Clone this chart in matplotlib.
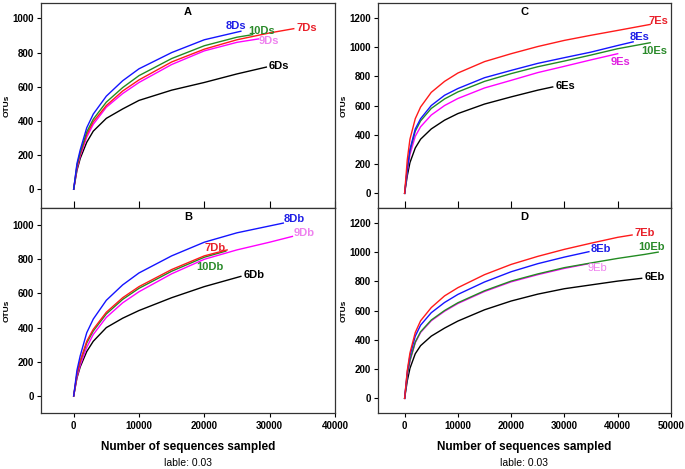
import matplotlib
matplotlib.use("Agg")
import matplotlib.pyplot as plt

plt.rcParams['font.family'] = ['Liberation Sans', 'DejaVu Sans']

# rarefaction curves: sequences sampled vs OTUs
# panel A
x_6Ds = [0, 500, 1000, 2000, 3000, 5000, 7500, 10000, 15000, 20000, 25000, 29500]
y_6Ds = [0, 110, 180, 275, 340, 415, 470, 520, 580, 625, 675, 715]
x_9Ds = [0, 500, 1000, 2000, 3000, 5000, 7500, 10000, 15000, 20000, 25000, 28300]
y_9Ds = [0, 120, 195, 305, 380, 480, 560, 625, 730, 810, 860, 880]
x_7Ds = [0, 500, 1000, 2000, 3000, 5000, 7500, 10000, 15000, 20000, 25000, 30000, 33700]
y_7Ds = [0, 130, 205, 320, 395, 490, 575, 640, 745, 820, 875, 915, 940]
x_10Ds = [0, 500, 1000, 2000, 3000, 5000, 7500, 10000, 15000, 20000, 25000, 27400]
y_10Ds = [0, 140, 215, 335, 410, 510, 595, 665, 765, 840, 890, 905]
x_8Ds = [0, 500, 1000, 2000, 3000, 5000, 7500, 10000, 15000, 20000, 25600]
y_8Ds = [0, 150, 230, 360, 440, 545, 635, 705, 800, 875, 925]

# panel B
x_6Db = [0, 500, 1000, 2000, 3000, 5000, 7500, 10000, 15000, 20000, 25600]
y_6Db = [0, 105, 170, 260, 320, 400, 455, 500, 575, 640, 700]
x_9Db = [0, 500, 1000, 2000, 3000, 5000, 7500, 10000, 15000, 20000, 25000, 30000, 33500]
y_9Db = [0, 110, 180, 285, 360, 460, 545, 610, 715, 800, 855, 900, 934]
x_10Db = [0, 500, 1000, 2000, 3000, 5000, 7500, 10000, 15000, 20000, 23300]
y_10Db = [0, 125, 200, 310, 380, 480, 565, 630, 730, 812, 848]
x_7Db = [0, 500, 1000, 2000, 3000, 5000, 7500, 10000, 15000, 20000, 23500]
y_7Db = [0, 130, 205, 320, 390, 490, 575, 640, 740, 820, 855]
x_8Db = [0, 500, 1000, 2000, 3000, 5000, 7500, 10000, 15000, 20000, 25000, 32100]
y_8Db = [0, 150, 235, 370, 450, 560, 650, 720, 820, 900, 955, 1012]

# panel C
x_6Es = [0, 500, 1000, 2000, 3000, 5000, 7500, 10000, 15000, 20000, 25000, 27800]
y_6Es = [0, 120, 210, 310, 370, 440, 500, 545, 610, 659, 705, 727]
x_9Es = [0, 500, 1000, 2000, 3000, 5000, 7500, 10000, 15000, 20000, 25000, 30000, 35000, 40000]
y_9Es = [0, 150, 265, 390, 455, 535, 600, 648, 720, 772, 825, 868, 912, 954]
x_10Es = [0, 500, 1000, 2000, 3000, 5000, 7500, 10000, 15000, 20000, 25000, 30000, 35000, 40000, 46100]
y_10Es = [0, 165, 290, 425, 495, 580, 645, 693, 765, 818, 865, 904, 945, 988, 1029]
x_8Es = [0, 500, 1000, 2000, 3000, 5000, 7500, 10000, 15000, 20000, 25000, 30000, 35000, 40000, 42900]
y_8Es = [0, 170, 300, 440, 510, 600, 670, 716, 790, 840, 888, 927, 965, 1010, 1035]
x_7Es = [0, 500, 1000, 2000, 3000, 5000, 7500, 10000, 15000, 20000, 25000, 30000, 35000, 40000, 46100]
y_7Es = [0, 230, 370, 510, 590, 690, 765, 822, 900, 954, 1003, 1045, 1080, 1113, 1154]

# panel D
x_6Eb = [0, 500, 1000, 2000, 3000, 5000, 7500, 10000, 15000, 20000, 25000, 30000, 35000, 40000, 44500]
y_6Eb = [0, 120, 205, 305, 360, 425, 480, 528, 605, 665, 712, 749, 775, 801, 820]
x_9Eb = [0, 500, 1000, 2000, 3000, 5000, 7500, 10000, 15000, 20000, 25000, 30000, 34300]
y_9Eb = [0, 155, 255, 380, 450, 530, 595, 648, 730, 796, 845, 888, 918]
x_10Eb = [0, 500, 1000, 2000, 3000, 5000, 7500, 10000, 15000, 20000, 25000, 30000, 35000, 40000, 45000, 47600]
y_10Eb = [0, 160, 260, 385, 455, 535, 600, 653, 735, 801, 850, 893, 925, 956, 983, 999]
x_8Eb = [0, 500, 1000, 2000, 3000, 5000, 7500, 10000, 15000, 20000, 25000, 30000, 34600]
y_8Eb = [0, 180, 290, 425, 500, 585, 655, 710, 795, 865, 920, 965, 1002]
x_7Eb = [0, 500, 1000, 2000, 3000, 5000, 7500, 10000, 15000, 20000, 25000, 30000, 35000, 40000, 42700]
y_7Eb = [0, 190, 310, 450, 530, 620, 700, 756, 845, 915, 970, 1018, 1060, 1100, 1116]

line_col = {'6': 'black', '9': '#ff00ff', '7': '#ff1a1a', '10': '#228b22', '8': '#1414ff'}
lab_col = {'6': 'black', '9': '#ee82ee', '7': '#e8202a', '10': '#2a8a2a', '8': '#1e1ee6'}

fig = plt.figure(figsize=(6.85, 4.69), dpi=100)
axA = fig.add_axes([0.0599, 0.5565, 0.429, 0.437])
axB = fig.add_axes([0.0599, 0.1194, 0.429, 0.437])
axC = fig.add_axes([0.5518, 0.5565, 0.4277, 0.437])
axD = fig.add_axes([0.5518, 0.1194, 0.4277, 0.437])

def draw(ax, curves, labels):
	for key, xs, ys in curves:
		ax.plot(xs, ys, color=line_col[key], lw=1.0)
	for text, key, lx, ly, bold in labels:
		ax.text(lx, ly, text, color=lab_col[key], fontsize=8,
			fontweight='bold' if bold else 'normal', ha='left', va='center')

draw(axA, [('6', x_6Ds, y_6Ds), ('9', x_9Ds, y_9Ds), ('7', x_7Ds, y_7Ds),
	('10', x_10Ds, y_10Ds), ('8', x_8Ds, y_8Ds)],
	[('8Ds', '8', 23300, 953, True), ('10Ds', '10', 26800, 924, True),
	('7Ds', '7', 34100, 942, True), ('9Ds', '9', 28300, 865, True),
	('6Ds', '6', 29800, 719, True)])
draw(axB, [('6', x_6Db, y_6Db), ('9', x_9Db, y_9Db), ('10', x_10Db, y_10Db),
	('7', x_7Db, y_7Db), ('8', x_8Db, y_8Db)],
	[('8Db', '8', 32200, 1033, True), ('9Db', '9', 33700, 953, True),
	('7Db', '7', 20100, 868, True), ('10Db', '10', 18800, 755, True),
	('6Db', '6', 26000, 706, True)])
draw(axC, [('6', x_6Es, y_6Es), ('9', x_9Es, y_9Es), ('10', x_10Es, y_10Es),
	('8', x_8Es, y_8Es), ('7', x_7Es, y_7Es)],
	[('7Es', '7', 45800, 1177, True), ('8Es', '8', 42200, 1068, True),
	('10Es', '10', 44500, 972, True), ('9Es', '9', 38700, 900, True),
	('6Es', '6', 28400, 733, True)])
draw(axD, [('6', x_6Eb, y_6Eb), ('9', x_9Eb, y_9Eb), ('10', x_10Eb, y_10Eb),
	('8', x_8Eb, y_8Eb), ('7', x_7Eb, y_7Eb)],
	[('7Eb', '7', 43100, 1132, True), ('8Eb', '8', 35000, 1018, True),
	('10Eb', '10', 43800, 1034, True), ('9Eb', '9', 34400, 888, False),
	('6Eb', '6', 45000, 829, True)])

# 9Es label is a stronger magenta in the reference
axC.texts[3].set_color('#e020e0')

for ax, title in zip([axA, axB, axC, axD], ['A', 'B', 'C', 'D']):
	ax.text(0.5, 0.955, title, transform=ax.transAxes, ha='center', va='center',
		fontsize=8, fontweight='bold')
	ax.set_ylabel('OTUs', fontsize=6, fontweight='bold')
	ax.yaxis.set_label_coords(-0.103, 0.5)
	for s in ax.spines.values():
		s.set_color('#333333')
		s.set_linewidth(0.9)
	ax.tick_params(axis='y', direction='out', length=3, width=0.8, labelsize=7, pad=2)
	ax.tick_params(axis='x', length=3, width=0.8, labelsize=7, pad=3)

axA.set_xlim(-5000, 40000)
axB.set_xlim(-5000, 40000)
axA.set_ylim(-110, 1090)
axB.set_ylim(-100, 1100)
axA.set_yticks([0, 200, 400, 600, 800, 1000])
axB.set_yticks([0, 200, 400, 600, 800, 1000])
axA.set_xticks([0, 10000, 20000, 30000, 40000])
axB.set_xticks([0, 10000, 20000, 30000, 40000])

axC.set_xlim(-5000, 50000)
axD.set_xlim(-5000, 50000)
axC.set_ylim(-100, 1300)
axD.set_ylim(-100, 1300)
axC.set_yticks([0, 200, 400, 600, 800, 1000, 1200])
axD.set_yticks([0, 200, 400, 600, 800, 1000, 1200])
axC.set_xticks([0, 10000, 20000, 30000, 40000, 50000])
axD.set_xticks([0, 10000, 20000, 30000, 40000, 50000])

for ax in [axA, axC]:
	ax.tick_params(axis='x', direction='in', length=5, labelbottom=False)
for ax in [axB, axD]:
	ax.tick_params(axis='x', direction='out')

for ax in [axA, axB, axC, axD]:
	for t in ax.get_yticklabels() + ax.get_xticklabels():
		t.set_fontweight('bold')

# x titles and the cut-off note under each column
for cx in [0.2745, 0.7656]:
	fig.text(cx, 0.0475, 'Number of sequences sampled', ha='center', va='center',
		fontsize=8.5, fontweight='bold')
	fig.text(cx, 0.012, 'lable: 0.03', ha='center', va='center', fontsize=7.5)

plt.savefig('out.png', dpi=100)
